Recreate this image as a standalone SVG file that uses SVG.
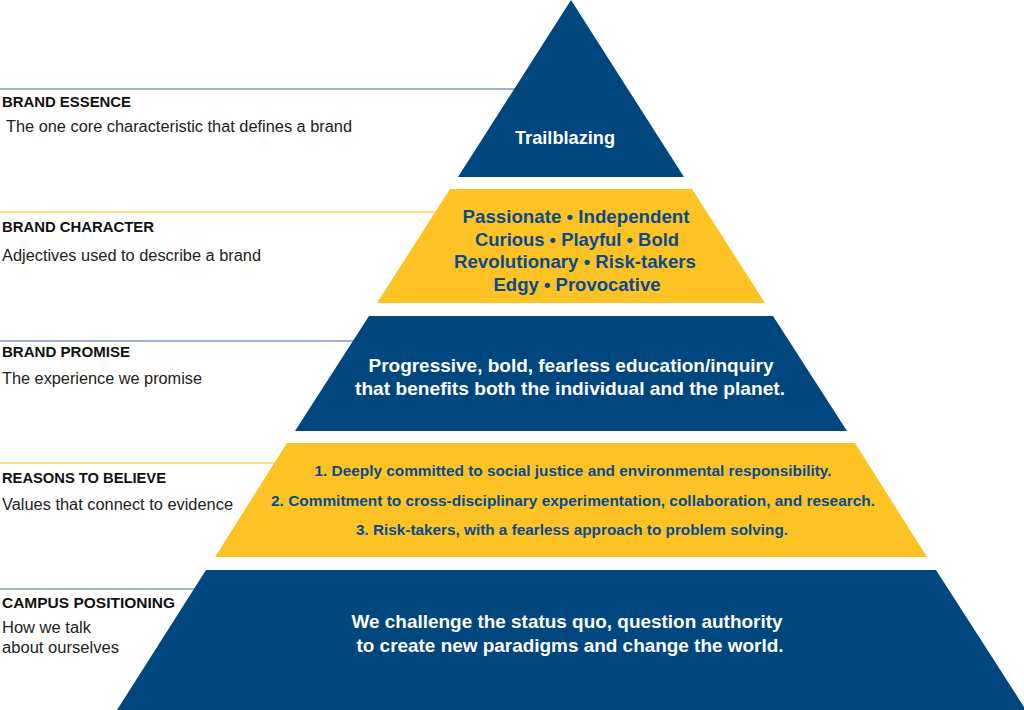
<svg xmlns="http://www.w3.org/2000/svg" width="1024" height="710" viewBox="0 0 1024 710">
<style>
.blue{fill:#00467f}
.yellow{fill:#fdc325}
.lbl{font-family:"Liberation Sans",Arial,sans-serif;font-weight:bold;font-size:15px;fill:#111}
.sub{font-family:"Liberation Sans",Arial,sans-serif;font-size:16px;fill:#222}
.wt{font-family:"Liberation Sans",Arial,sans-serif;font-weight:bold;font-size:18.5px;fill:#fff;text-anchor:middle}
.bt{font-family:"Liberation Sans",Arial,sans-serif;font-weight:bold;font-size:18.5px;fill:#0b4a8b;text-anchor:middle}
.rt{font-family:"Liberation Sans",Arial,sans-serif;font-weight:bold;font-size:14.5px;fill:#0b4a8b;text-anchor:middle}
.lb{stroke:#7e9bbb;stroke-width:1.5}
.ly{stroke:#fdd25a;stroke-width:1.5}
</style>
<rect width="1024" height="710" fill="#fff"/>
<g id="connectors">
<line class="lb" x1="0" y1="89" x2="516" y2="89"/>
<line class="ly" x1="0" y1="212" x2="437" y2="212"/>
<line class="lb" x1="0" y1="341" x2="355" y2="341"/>
<line class="ly" x1="0" y1="463" x2="275" y2="463"/>
<line class="lb" x1="0" y1="589" x2="195" y2="589"/>
</g>
<g id="brand-essence">
<polygon class="blue" points="571,0 684,177 458,177"/>
<text class="wt" x="565" y="144" textLength="100" lengthAdjust="spacingAndGlyphs">Trailblazing</text>
<text class="lbl" x="2" y="107" textLength="129" lengthAdjust="spacingAndGlyphs">BRAND ESSENCE</text>
<text class="sub" x="6" y="132" textLength="346" lengthAdjust="spacingAndGlyphs">The one core characteristic that defines a brand</text>
</g>
<g id="brand-character">
<polygon class="yellow" points="450,189 692,189 765,303 377,303"/>
<text class="bt" x="576" y="223" textLength="227" lengthAdjust="spacingAndGlyphs">Passionate • Independent</text>
<text class="bt" x="577" y="246" textLength="204" lengthAdjust="spacingAndGlyphs">Curious • Playful • Bold</text>
<text class="bt" x="575" y="268" textLength="242" lengthAdjust="spacingAndGlyphs">Revolutionary • Risk-takers</text>
<text class="bt" x="577" y="291" textLength="167" lengthAdjust="spacingAndGlyphs">Edgy • Provocative</text>
<text class="lbl" x="2" y="232" textLength="152" lengthAdjust="spacingAndGlyphs">BRAND CHARACTER</text>
<text class="sub" x="2" y="261" textLength="259" lengthAdjust="spacingAndGlyphs">Adjectives used to describe a brand</text>
</g>
<g id="brand-promise">
<polygon class="blue" points="369,316 773,316 847,431 295,431"/>
<text class="wt" x="571" y="372" textLength="405" lengthAdjust="spacingAndGlyphs">Progressive, bold, fearless education/inquiry</text>
<text class="wt" x="570" y="395" textLength="430" lengthAdjust="spacingAndGlyphs">that benefits both the individual and the planet.</text>
<text class="lbl" x="2" y="357" textLength="128" lengthAdjust="spacingAndGlyphs">BRAND PROMISE</text>
<text class="sub" x="2" y="384" textLength="200" lengthAdjust="spacingAndGlyphs">The experience we promise</text>
</g>
<g id="reasons-to-believe">
<polygon class="yellow" points="287,443 855,443 927,557 215,557"/>
<text class="rt" x="573" y="476" textLength="517" lengthAdjust="spacingAndGlyphs">1. Deeply committed to social justice and environmental responsibility.</text>
<text class="rt" x="573" y="506" textLength="604" lengthAdjust="spacingAndGlyphs">2. Commitment to cross-disciplinary experimentation, collaboration, and research.</text>
<text class="rt" x="572" y="535" textLength="432" lengthAdjust="spacingAndGlyphs">3. Risk-takers, with a fearless approach to problem solving.</text>
<text class="lbl" x="2" y="483" textLength="164" lengthAdjust="spacingAndGlyphs">REASONS TO BELIEVE</text>
<text class="sub" x="2" y="510" textLength="231" lengthAdjust="spacingAndGlyphs">Values that connect to evidence</text>
</g>
<g id="campus-positioning">
<polygon class="blue" points="206,570 936,570 1026,710 117,710"/>
<text class="wt" x="567" y="628" textLength="431" lengthAdjust="spacingAndGlyphs">We challenge the status quo, question authority</text>
<text class="wt" x="570" y="652" textLength="427" lengthAdjust="spacingAndGlyphs">to create new paradigms and change the world.</text>
<text class="lbl" x="2" y="608" textLength="173" lengthAdjust="spacingAndGlyphs">CAMPUS POSITIONING</text>
<text class="sub" x="2" y="633" textLength="89" lengthAdjust="spacingAndGlyphs">How we talk</text>
<text class="sub" x="2" y="653" textLength="117" lengthAdjust="spacingAndGlyphs">about ourselves</text>
</g>
</svg>
